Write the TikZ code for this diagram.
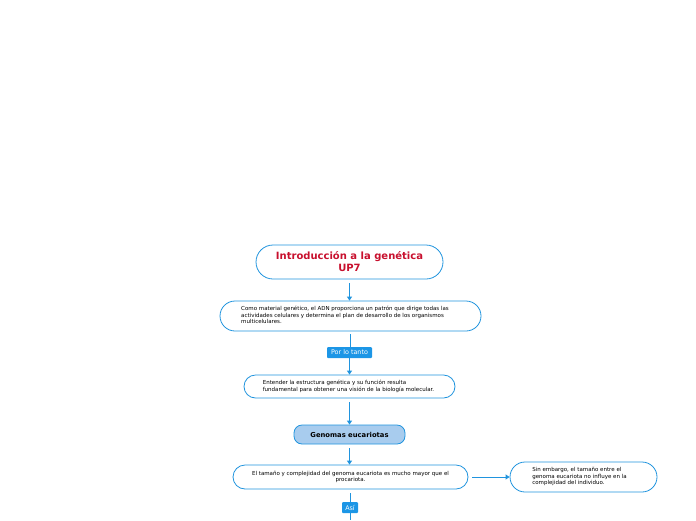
\documentclass[tikz,border=0pt]{standalone}
\usepackage{fontspec}
\setmainfont{DejaVu Sans}
\usetikzlibrary{arrows.meta}
\definecolor{lineblue}{RGB}{32,148,222}
\definecolor{labelblue}{RGB}{28,150,230}
\definecolor{lightblue}{RGB}{168,204,238}
\definecolor{titlered}{RGB}{200,16,46}
\tikzset{
  box/.style={draw=lineblue, line width=0.8pt, fill=white, rounded corners=#1, inner sep=0pt},
  box/.default=12pt,
  small/.style={font=\fontsize{5.5}{6.6}\selectfont},
  tag/.style={fill=labelblue, text=white, inner sep=0pt, rounded corners=1pt, font=\fontsize{6.4}{7}\selectfont},
  conn/.style={draw=lineblue, line width=0.9pt, -{Triangle[width=5pt,length=4pt]}},
  plain/.style={draw=lineblue, line width=0.9pt}
}
\begin{document}
\begin{tikzpicture}[x=1pt,y=-1pt]
\useasboundingbox (0,0) rectangle (696,520);
% title
\node[box=17pt, minimum width=187pt, minimum height=34pt, text=titlered, align=center,
      font=\bfseries\fontsize{10}{12}\selectfont] (t) at (349.5,262) {Introducción a la genética\\UP7};
% box2
\node[box=15pt, minimum width=261pt, minimum height=30pt, small] (b2) at (350.5,316)
  {\hspace*{-11pt}\begin{tabular}{@{}l@{}}Como material genético, el ADN proporciona un patrón que dirige todas las\\actividades celulares y determina el plan de desarrollo de los organismos\\multicelulares.\end{tabular}};
% label por lo tanto
\node[tag, minimum width=45pt, minimum height=11pt] (l1) at (349.5,352.5) {Por lo tanto};
% box3
\node[box=11.5pt, minimum width=211pt, minimum height=23pt, small] (b3) at (349.5,386.5)
  {\hspace*{-2pt}\begin{tabular}{@{}l@{}}Entender la estructura genética y su función resulta\\fundamental para obtener una visión de la biología molecular.\end{tabular}};
% genomas
\node[draw=lineblue, line width=0.8pt, fill=lightblue, rounded corners=8pt, minimum width=111pt, minimum height=19pt,
      font=\bfseries\fontsize{6.8}{8}\selectfont] (g) at (349.5,434.5) {Genomas eucariotas};
% box5
\node[box=12pt, minimum width=235pt, minimum height=24pt, small, align=center] (b5) at (350.5,477)
  {El tamaño y complejidad del genoma eucariota es mucho mayor que el\\procariota.};
% right box
\node[box=15pt, minimum width=147pt, minimum height=30pt, small] (r) at (583.5,477)
  {\hspace*{-8pt}\begin{tabular}{@{}l@{}}Sin embargo, el tamaño entre el\\genoma eucariota no influye en la\\complejidad del individuo.\end{tabular}};
% label asi
\node[tag, minimum width=16pt, minimum height=11pt] (l2) at (350,507.5) {Así};
\coordinate (end) at (350,520);
% connectors
\draw[conn] ([yshift=-4pt]t.south) -- (t.south |- b2.north);
\draw[plain] ([yshift=-3pt]b2.south) -- (b2.south |- l1.north);
\draw[conn] (l1.south) -- (l1.south |- b3.north);
\draw[conn] ([yshift=-4pt]b3.south) -- (b3.south |- g.north);
\draw[conn] ([yshift=-4pt]g.south) -- (g.south |- b5.north);
\draw[conn] ([xshift=4pt]b5.east) -- (b5.east -| r.west);
\draw[plain] ([yshift=-4pt]b5.south) -- (b5.south |- l2.north);
\draw[plain] (l2.south) -- (end);
\end{tikzpicture}
\end{document}
